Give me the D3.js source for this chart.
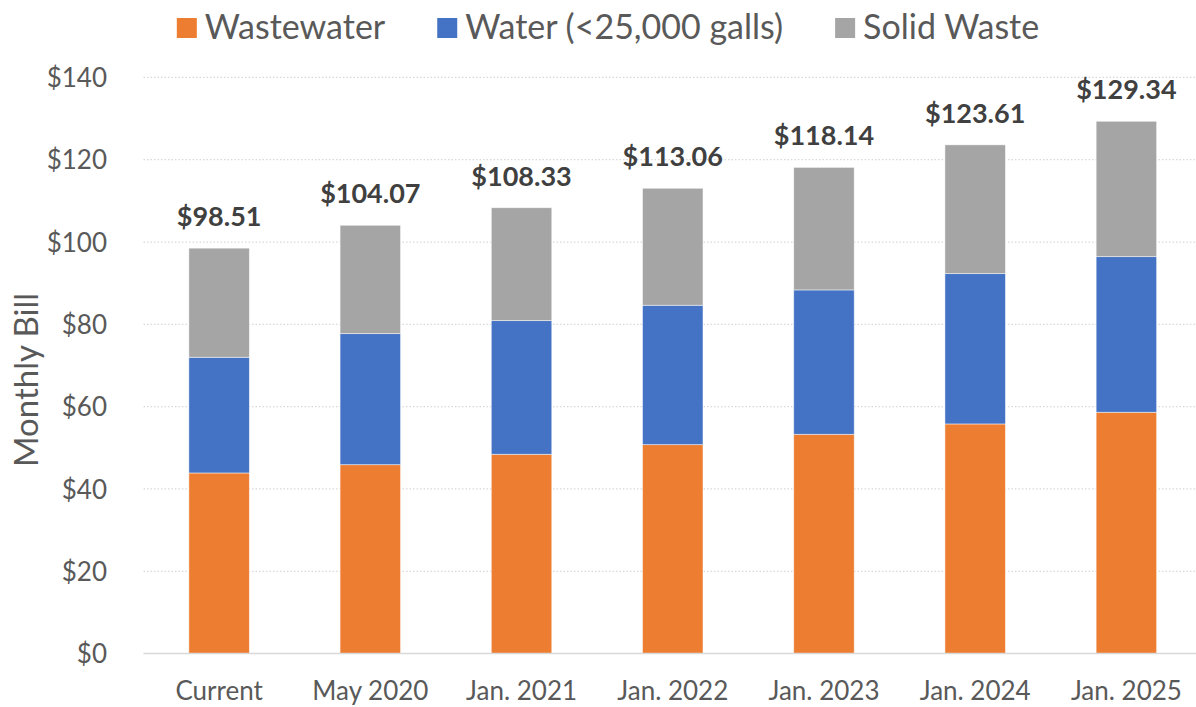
<!DOCTYPE html>
<html>
<head>
<meta charset="utf-8">
<script src="https://cdn.jsdelivr.net/npm/d3@7"></script>
<style>
  html, body { margin: 0; padding: 0; background: #fff; }
  svg { display: block; }
  text { font-family: Lato, "Open Sans", sans-serif; }
</style>
</head>
<body>
<svg id="chart" width="1196" height="707"></svg>
<script>
const categories = ["Current", "May 2020", "Jan. 2021", "Jan. 2022", "Jan. 2023", "Jan. 2024", "Jan. 2025"];
const seriesNames = ["Wastewater", "Water (<25,000 galls)", "Solid Waste"];
const wastewater = [43.89, 45.90, 48.43, 50.77, 53.29, 55.80, 58.64];
const water = [28.11, 31.84, 32.47, 33.87, 35.07, 36.52, 37.81];
const solidWaste = [26.51, 26.33, 27.43, 28.42, 29.78, 31.29, 32.89];
const totals = [98.51, 104.07, 108.33, 113.06, 118.14, 123.61, 129.34];
const totalLabels = ["$98.51", "$104.07", "$108.33", "$113.06", "$118.14", "$123.61", "$129.34"];
const yTicks = [0, 20, 40, 60, 80, 100, 120, 140];
const colors = ["#ED7D31", "#4472C4", "#A5A5A5"];

const svg = d3.select("#chart");
const W = 1196, H = 707;

const x = d3.scaleBand().domain(categories).range([143.5, 1202]).paddingInner(0.6).paddingOuter(0.3);
const y = d3.scaleLinear().domain([0, 140]).range([653.6, 77.4]);

// gridlines
svg.append("g").selectAll("line").data(yTicks.filter(d => d > 0)).join("line")
  .attr("x1", 143.5).attr("x2", W)
  .attr("y1", d => y(d)).attr("y2", d => y(d))
  .attr("stroke", "#d9d9d9").attr("stroke-width", 1.3)
  .attr("stroke-dasharray", "1.5,2");

// stacked data
const table = categories.map((c, i) => ({cat: c, Wastewater: wastewater[i], "Water (<25,000 galls)": water[i], "Solid Waste": solidWaste[i]}));
const stack = d3.stack().keys(seriesNames)(table);

svg.append("g").selectAll("g").data(stack).join("g")
  .attr("fill", (d, i) => colors[i])
  .selectAll("rect").data(d => d).join("rect")
  .attr("x", d => x(d.data.cat))
  .attr("width", x.bandwidth())
  .attr("y", d => y(d[1]))
  .attr("height", d => y(d[0]) - y(d[1]))
  .attr("stroke", "#ffffff").attr("stroke-opacity", 0.6).attr("stroke-width", 0.8);

// baseline
svg.append("line").attr("x1", 143.5).attr("x2", W).attr("y1", y(0)).attr("y2", y(0))
  .attr("stroke", "#d9d9d9").attr("stroke-width", 1.5);

// y axis
const yAxis = d3.axisLeft(y).tickValues(yTicks).tickFormat(d => "$" + d).tickSize(0).tickPadding(0);
const gy = svg.append("g").attr("transform", "translate(107,0)").call(yAxis);
gy.select(".domain").remove();
gy.selectAll("text").attr("fill", "#595959").style("font-size", "26px").style("font-family", "Lato, sans-serif").attr("dy", "0.35em");

// x axis
const xAxis = d3.axisBottom(x).tickSize(0).tickPadding(0);
const gx = svg.append("g").attr("transform", "translate(0,700)").call(xAxis);
gx.select(".domain").remove();
gx.selectAll("text").attr("fill", "#595959").style("font-size", "26px").style("font-family", "Lato, sans-serif").attr("dy", "0");

// totals labels
svg.append("g").selectAll("text").data(categories).join("text")
  .attr("x", d => x(d) + x.bandwidth() / 2)
  .attr("y", (d, i) => y(totals[i]) - 22)
  .attr("text-anchor", "middle")
  .attr("fill", "#404040")
  .style("font-size", "27px").style("font-weight", "bold")
  .text((d, i) => totalLabels[i]);

// y title
svg.append("text")
  .attr("transform", "translate(38,380) rotate(-90)")
  .attr("text-anchor", "middle")
  .attr("fill", "#595959")
  .style("font-size", "33px")
  .text("Monthly Bill");

// legend
const lg = svg.append("g");
let cx = 0;
seriesNames.forEach((name, i) => {
  const g = lg.append("g");
  g.append("rect").attr("x", cx).attr("y", 18).attr("width", 20).attr("height", 20).attr("fill", colors[i]);
  const t = g.append("text").attr("x", cx + 28).attr("y", 39).attr("fill", "#595959").style("font-size", "34px").text(name);
  const w = t.node().getComputedTextLength();
  cx += 28 + w + 52;
});
const totalW = cx - 52;
lg.attr("transform", `translate(${608 - totalW / 2},0)`);
</script>
</body>
</html>
